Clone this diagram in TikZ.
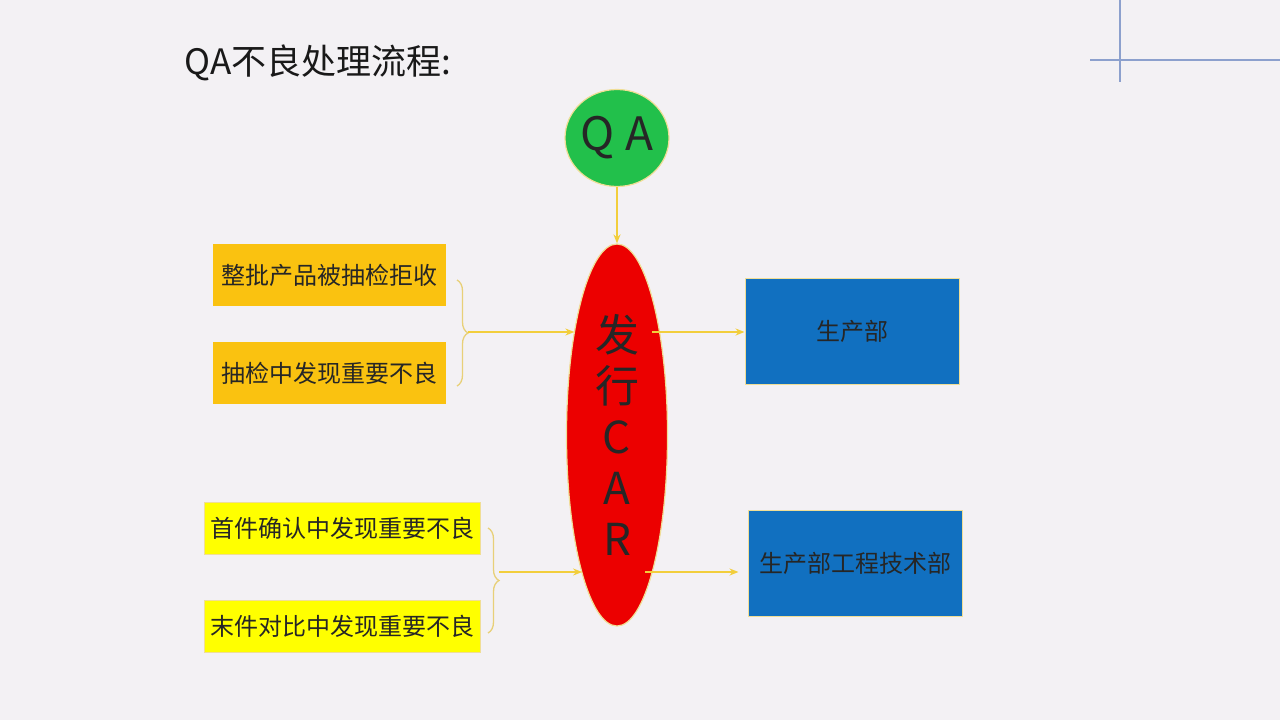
\documentclass[tikz,border=0pt]{standalone}
\usepackage{fontspec}
\setmainfont{Noto Sans CJK SC}
\usepackage{tikz}
\usetikzlibrary{positioning, arrows.meta, shapes.geometric, decorations.pathreplacing}
\definecolor{slidebg}  {RGB}{243, 241, 244}
\definecolor{qagreen}  {RGB}{34, 192, 75}
\definecolor{carred}   {RGB}{236, 0, 0}
\definecolor{boxorange}{RGB}{250, 194, 16}
\definecolor{boxyellow}{RGB}{255, 255, 0}
\definecolor{deptblue} {RGB}{17, 112, 192}
\definecolor{linegold} {RGB}{242, 206, 60}
\definecolor{edgegold} {RGB}{240, 222, 150}
\definecolor{bracegold}{RGB}{232, 208, 120}
\definecolor{guideblue}{RGB}{140, 160, 205}
\tikzset{
  % Cause box (sampling)
  causebox/.style={
    rectangle, minimum width=233pt, minimum height=62pt, inner sep=0pt,
    fill=boxorange, font=\fontsize{24pt}{28pt}\selectfont, text=black!85
  },
  % Cause box (first / last piece)
  piecebox/.style={
    rectangle, minimum width=276pt, minimum height=52pt, inner sep=0pt,
    fill=boxyellow, draw=edgegold, line width=1pt,
    font=\fontsize{24pt}{28pt}\selectfont, text=black!85
  },
  % Department box
  deptbox/.style={
    rectangle, minimum width=214pt, minimum height=106pt, inner sep=0pt,
    fill=deptblue, draw=edgegold, line width=1pt,
    font=\fontsize{24pt}{28pt}\selectfont, text=black!85
  },
  % Brace
  brc/.style={decorate, decoration={brace, amplitude=11pt}, line width=1.3pt, color=bracegold},
  % Arrow style
  arr/.style={-{Stealth[length=9pt, width=7pt]}, line width=1.6pt, color=linegold},
}

\begin{document}
\begin{tikzpicture}[x=1pt, y=-1pt, node distance=36pt]
  \fill[slidebg] (0,0) rectangle (1280,720);
  \useasboundingbox (0,0) rectangle (1280,720);
  % guide lines
  \draw[guideblue, line width=1.5pt] (1120,0) -- (1120,82);
  \draw[guideblue, line width=1.5pt] (1090,60) -- (1280,60);
  \node[anchor=west, font=\fontsize{35pt}{40pt}\selectfont, text=black!90] (title) at (181,63) {QA不良处理流程:};

  \node[ellipse, minimum width=104pt, minimum height=97pt, inner sep=0pt, fill=qagreen, draw=edgegold, line width=1.2pt,
        font=\fontsize{46pt}{50pt}\selectfont, text=black!85] (qa) at (617,138) {Q A};
  \node[ellipse, minimum width=101pt, minimum height=382pt, inner sep=0pt, fill=carred, draw=edgegold, line width=1.2pt,
        align=center, font=\fontsize{44pt}{51pt}\selectfont, text=black!85] (car) at (617,435) {发\\行\\C\\A\\R};

  \node[causebox] (rej) at (329.5,275) {整批产品被抽检拒收};
  \node[causebox, below=36pt of rej] (smp) {抽检中发现重要不良};
  \node[piecebox] (first) at (342,528) {首件确认中发现重要不良};
  \node[piecebox, below=45pt of first] (last) {末件对比中发现重要不良};

  \node[deptbox] (prod) at (852,331) {生产部};
  \node[deptbox] (tech) at (855,563.5) {生产部工程技术部};

  \draw[brc] (457,280) -- (457,386);
  \coordinate (brA) at (468,332);
  \draw[brc] (488,528) -- (488,633);
  \coordinate (brB) at (499,572);

  \draw[arr] (qa) -- (car);
  \draw[arr] (brA) -- (brA -| car.112);
  \draw[arr] (brB) -- (brB -| car.256);
  \draw[arr, shorten <=35pt] (brA -| car.center) -- (brA -| prod.west);
  \draw[arr, shorten <=28pt, shorten >=9pt] (brB -| car.center) -- (brB -| tech.west);
\end{tikzpicture}
\end{document}
